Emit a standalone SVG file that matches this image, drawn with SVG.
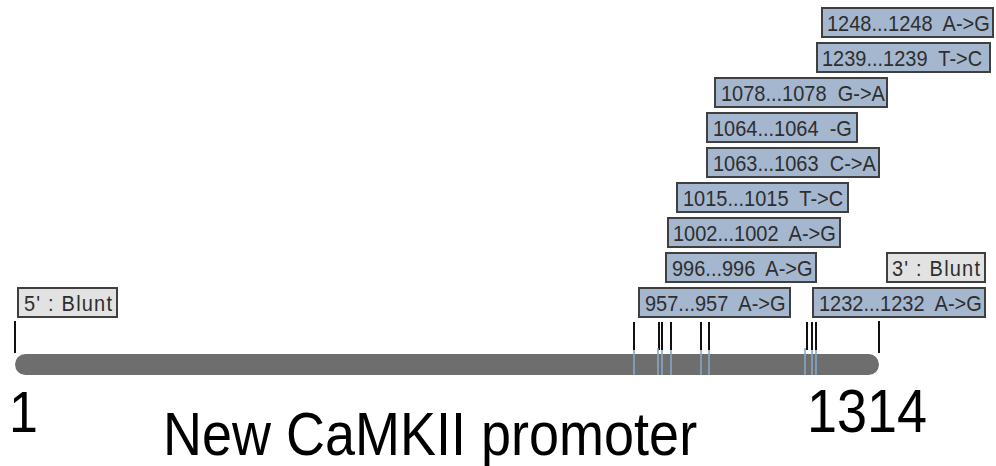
<svg xmlns="http://www.w3.org/2000/svg" width="996" height="466" viewBox="0 0 996 466">
<style>
.f{fill:#a5b7cf;stroke:#3f3f3f;stroke-width:2}
.b{fill:#e2e2e2;stroke:#3f3f3f;stroke-width:2}
.t{font-family:"Liberation Sans",Arial,sans-serif;font-size:20px;fill:#2e2e2e;white-space:pre}
.tick{stroke:#111;stroke-width:2}
.bl{stroke:#87a5c6;stroke-width:1.6}
.big{font-family:"Liberation Sans",Arial,sans-serif;fill:#000}
</style>
<rect width="996" height="466" fill="#fff"/>
<g id="backbone">
<rect x="15" y="354" width="864" height="21" rx="10.5" fill="#6e6e6e"/>
</g>
<g id="connectors">
<line class="tick" x1="15" y1="321" x2="15" y2="353"/>
<line class="tick" x1="879" y1="321" x2="879" y2="353"/>
<line class="tick" x1="634" y1="322" x2="634" y2="350"/>
<line class="tick" x1="659" y1="322" x2="659" y2="350"/>
<line class="tick" x1="662" y1="322" x2="662" y2="350"/>
<line class="tick" x1="671" y1="322" x2="671" y2="350"/>
<line class="tick" x1="701" y1="322" x2="701" y2="350"/>
<line class="tick" x1="709" y1="322" x2="709" y2="350"/>
<line class="tick" x1="807" y1="322" x2="807" y2="350"/>
<line class="tick" x1="812" y1="322" x2="812" y2="350"/>
<line class="tick" x1="816" y1="322" x2="816" y2="350"/>
<line class="bl" x1="634" y1="350" x2="634" y2="375"/>
<line class="bl" x1="658" y1="348" x2="658" y2="375"/>
<line class="bl" x1="662" y1="350" x2="662" y2="375"/>
<line class="bl" x1="671" y1="350" x2="671" y2="375"/>
<line class="bl" x1="701" y1="350" x2="701" y2="375"/>
<line class="bl" x1="709" y1="350" x2="709" y2="375"/>
<line class="bl" x1="805" y1="348" x2="805" y2="375"/>
<line class="bl" x1="812" y1="350" x2="812" y2="375"/>
<line class="bl" x1="816" y1="350" x2="816" y2="375"/>
</g>
<g id="m1248"><rect class="f" x="822" y="8" width="171" height="29"/><text class="t" xml:space="preserve" transform="translate(827,31) scale(1,1.09)">1248...1248  A-&gt;G</text></g>
<g id="m1239"><rect class="f" x="817" y="43" width="173" height="29"/><text class="t" xml:space="preserve" transform="translate(822,66) scale(1,1.09)">1239...1239  T-&gt;C</text></g>
<g id="m1078"><rect class="f" x="715" y="78" width="172" height="29"/><text class="t" xml:space="preserve" transform="translate(721,101) scale(1,1.09)">1078...1078  G-&gt;A</text></g>
<g id="m1064"><rect class="f" x="707" y="113" width="150" height="29"/><text class="t" xml:space="preserve" transform="translate(713,136) scale(1,1.09)">1064...1064  -G</text></g>
<g id="m1063"><rect class="f" x="707" y="148" width="172" height="29"/><text class="t" xml:space="preserve" transform="translate(713,171) scale(1,1.09)">1063...1063  C-&gt;A</text></g>
<g id="m1015"><rect class="f" x="677" y="183" width="171" height="29"/><text class="t" xml:space="preserve" transform="translate(683,206) scale(1,1.09)">1015...1015  T-&gt;C</text></g>
<g id="m1002"><rect class="f" x="668" y="218" width="172" height="29"/><text class="t" xml:space="preserve" transform="translate(673,241) scale(1,1.09)">1002...1002  A-&gt;G</text></g>
<g id="m996"><rect class="f" x="666" y="253" width="150" height="29"/><text class="t" xml:space="preserve" transform="translate(672,276) scale(1,1.09)">996...996  A-&gt;G</text></g>
<g id="blunt3"><rect class="b" x="887" y="253" width="98" height="29"/><text class="t" xml:space="preserve" transform="translate(892,276) scale(1,1.09)" textLength="88" lengthAdjust="spacing">3' : Blunt</text></g>
<g id="m957"><rect class="f" x="639" y="288" width="151" height="29"/><text class="t" xml:space="preserve" transform="translate(645,311) scale(1,1.09)">957...957  A-&gt;G</text></g>
<g id="m1232"><rect class="f" x="813" y="288" width="172" height="29"/><text class="t" xml:space="preserve" transform="translate(819,311) scale(1,1.09)">1232...1232  A-&gt;G</text></g>
<g id="blunt5"><rect class="b" x="18" y="288" width="99" height="29"/><text class="t" xml:space="preserve" transform="translate(24,311) scale(1,1.09)" textLength="88" lengthAdjust="spacing">5' : Blunt</text></g>
<g id="labels">
<text class="big" font-size="52" transform="translate(9,432) scale(1,1.12)">1</text>
<text class="big" font-size="54" transform="translate(807,432) scale(1,1.12)">1314</text>
<text class="big" font-size="54" transform="translate(163,455) scale(1,1.12)">New CaMKII promoter</text>
</g>
</svg>
